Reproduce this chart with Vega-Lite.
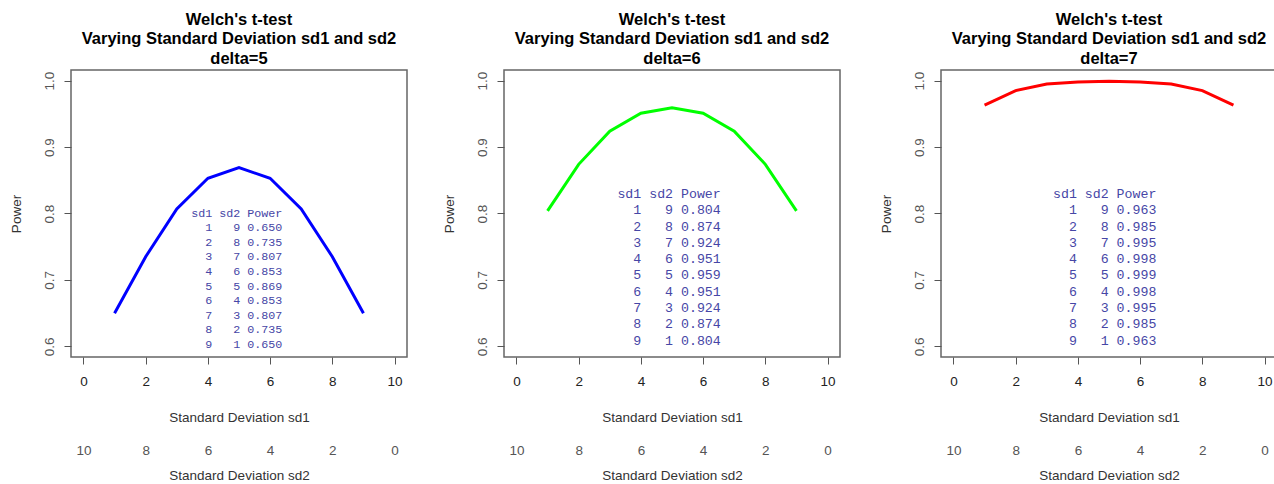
{
  "$schema": "https://vega.github.io/schema/vega-lite/v6.json",
  "padding": {"left": 8, "top": 10, "right": 0, "bottom": 0},
  "background": "white",
  "config": {
    "view": {"stroke": "#666666", "strokeWidth": 1.5},
    "title": {"font": "Liberation Sans", "fontSize": 16.5, "fontWeight": "bold", "lineHeight": 19.5, "color": "#000000", "anchor": "middle", "offset": 3},
    "axis": {"grid": false, "domain": false, "labelFont": "Liberation Sans", "labelFontSize": 13.5, "titleFont": "Liberation Sans", "titleFontSize": 13.5, "titleFontWeight": "normal", "titleColor": "#333333", "tickColor": "#555555", "tickSize": 7, "labelFlush": false, "labelOverlap": false}
  },
  "hconcat": [
    {
      "spacing": 33,
      "hconcat": [
        {
          "width": 336, "height": 287,
          "title": {"text": ["Welch's t-test", "Varying Standard Deviation sd1 and sd2", "delta=5"]},
          "data": {"values": [
            {"sd1": 1, "sd2": 9, "power": 0.650},
            {"sd1": 2, "sd2": 8, "power": 0.735},
            {"sd1": 3, "sd2": 7, "power": 0.807},
            {"sd1": 4, "sd2": 6, "power": 0.853},
            {"sd1": 5, "sd2": 5, "power": 0.869},
            {"sd1": 6, "sd2": 4, "power": 0.853},
            {"sd1": 7, "sd2": 3, "power": 0.807},
            {"sd1": 8, "sd2": 2, "power": 0.735},
            {"sd1": 9, "sd2": 1, "power": 0.650}
          ]},
          "layer": [
            {
              "mark": {"type": "line", "color": "#0000ff", "strokeWidth": 3},
              "encoding": {
                "x": {"field": "sd1", "type": "quantitative", "scale": {"domain": [-0.4, 10.4], "nice": false, "zero": false},
                      "axis": {"values": [0, 2, 4, 6, 8, 10], "title": "Standard Deviation sd1", "labelColor": "#222222", "labelPadding": 10, "titlePadding": 23}},
                "y": {"field": "power", "type": "quantitative", "scale": {"domain": [0.584, 1.016], "nice": false, "zero": false},
                      "axis": {"values": [0.6, 0.7, 0.8, 0.9, 1.0], "format": ".1f", "title": "Power", "labelAngle": -90, "labelColor": "#555555", "labelPadding": 8, "titlePadding": 19}}
              }
            },
            {
              "mark": {"type": "point", "opacity": 0},
              "encoding": {
                "x": {"field": "sd2", "type": "quantitative", "scale": {"domain": [-0.4, 10.4], "reverse": true, "nice": false, "zero": false},
                      "axis": {"orient": "bottom", "offset": 85, "values": [0, 2, 4, 6, 8, 10], "ticks": false, "tickSize": 0, "labelPadding": 1, "title": "Standard Deviation sd2", "labelColor": "#555555", "titlePadding": 12}},
                "y": {"field": "power", "type": "quantitative", "scale": {"domain": [0.584, 1.016], "nice": false, "zero": false}, "axis": null}
              }
            },
            {
              "mark": {"type": "text", "font": "Liberation Mono", "fontSize": 11.7, "align": "right", "baseline": "middle", "color": "#4646a6"},
              "encoding": {
                "x": {"datum": 4.137, "scale": {"domain": [-0.4, 10.4], "nice": false, "zero": false}, "axis": null},
                "y": {"field": "sd1", "type": "quantitative", "scale": {"domain": [-9.77, 9.89], "reverse": true, "nice": false, "zero": false}, "axis": null},
                "text": {"field": "sd1", "type": "quantitative", "format": "d"}
              }
            },
            {
              "mark": {"type": "text", "font": "Liberation Mono", "fontSize": 11.7, "align": "right", "baseline": "middle", "color": "#4646a6"},
              "encoding": {
                "x": {"datum": 5.04, "scale": {"domain": [-0.4, 10.4], "nice": false, "zero": false}, "axis": null},
                "y": {"field": "sd1", "type": "quantitative", "scale": {"domain": [-9.77, 9.89], "reverse": true, "nice": false, "zero": false}, "axis": null},
                "text": {"field": "sd2", "type": "quantitative", "format": "d"}
              }
            },
            {
              "mark": {"type": "text", "font": "Liberation Mono", "fontSize": 11.7, "align": "right", "baseline": "middle", "color": "#4646a6"},
              "encoding": {
                "x": {"datum": 6.394, "scale": {"domain": [-0.4, 10.4], "nice": false, "zero": false}, "axis": null},
                "y": {"field": "sd1", "type": "quantitative", "scale": {"domain": [-9.77, 9.89], "reverse": true, "nice": false, "zero": false}, "axis": null},
                "text": {"field": "power", "type": "quantitative", "format": ".3f"}
              }
            },
            {
              "data": {"values": [{"label": "sd1 sd2 Power", "row": 0}]},
              "mark": {"type": "text", "font": "Liberation Mono", "fontSize": 11.7, "align": "right", "baseline": "middle", "color": "#4646a6"},
              "encoding": {
                "x": {"datum": 6.394, "scale": {"domain": [-0.4, 10.4], "nice": false, "zero": false}, "axis": null},
                "y": {"field": "row", "type": "quantitative", "scale": {"domain": [-9.77, 9.89], "reverse": true, "nice": false, "zero": false}, "axis": null},
                "text": {"field": "label", "type": "nominal"}
              }
            }
          ],
          "resolve": {"scale": {"x": "independent", "y": "independent"}, "axis": {"x": "independent", "y": "independent"}}
        },
        {
          "width": 336, "height": 287,
          "title": {"text": ["Welch's t-test", "Varying Standard Deviation sd1 and sd2", "delta=6"]},
          "data": {"values": [
            {"sd1": 1, "sd2": 9, "power": 0.804},
            {"sd1": 2, "sd2": 8, "power": 0.874},
            {"sd1": 3, "sd2": 7, "power": 0.924},
            {"sd1": 4, "sd2": 6, "power": 0.951},
            {"sd1": 5, "sd2": 5, "power": 0.959},
            {"sd1": 6, "sd2": 4, "power": 0.951},
            {"sd1": 7, "sd2": 3, "power": 0.924},
            {"sd1": 8, "sd2": 2, "power": 0.874},
            {"sd1": 9, "sd2": 1, "power": 0.804}
          ]},
          "layer": [
            {
              "mark": {"type": "line", "color": "#00ff00", "strokeWidth": 3},
              "encoding": {
                "x": {"field": "sd1", "type": "quantitative", "scale": {"domain": [-0.4, 10.4], "nice": false, "zero": false},
                      "axis": {"values": [0, 2, 4, 6, 8, 10], "title": "Standard Deviation sd1", "labelColor": "#222222", "labelPadding": 10, "titlePadding": 23}},
                "y": {"field": "power", "type": "quantitative", "scale": {"domain": [0.584, 1.016], "nice": false, "zero": false},
                      "axis": {"values": [0.6, 0.7, 0.8, 0.9, 1.0], "format": ".1f", "title": "Power", "labelAngle": -90, "labelColor": "#555555", "labelPadding": 8, "titlePadding": 19}}
              }
            },
            {
              "mark": {"type": "point", "opacity": 0},
              "encoding": {
                "x": {"field": "sd2", "type": "quantitative", "scale": {"domain": [-0.4, 10.4], "reverse": true, "nice": false, "zero": false},
                      "axis": {"orient": "bottom", "offset": 85, "values": [0, 2, 4, 6, 8, 10], "ticks": false, "tickSize": 0, "labelPadding": 1, "title": "Standard Deviation sd2", "labelColor": "#555555", "titlePadding": 12}},
                "y": {"field": "power", "type": "quantitative", "scale": {"domain": [0.584, 1.016], "nice": false, "zero": false}, "axis": null}
              }
            },
            {
              "mark": {"type": "text", "font": "Liberation Mono", "fontSize": 13.25, "align": "right", "baseline": "middle", "color": "#4646a6"},
              "encoding": {
                "x": {"datum": 4.012, "scale": {"domain": [-0.4, 10.4], "nice": false, "zero": false}, "axis": null},
                "y": {"field": "sd1", "type": "quantitative", "scale": {"domain": [-7.607, 10.0], "reverse": true, "nice": false, "zero": false}, "axis": null},
                "text": {"field": "sd1", "type": "quantitative", "format": "d"}
              }
            },
            {
              "mark": {"type": "text", "font": "Liberation Mono", "fontSize": 13.25, "align": "right", "baseline": "middle", "color": "#4646a6"},
              "encoding": {
                "x": {"datum": 5.034, "scale": {"domain": [-0.4, 10.4], "nice": false, "zero": false}, "axis": null},
                "y": {"field": "sd1", "type": "quantitative", "scale": {"domain": [-7.607, 10.0], "reverse": true, "nice": false, "zero": false}, "axis": null},
                "text": {"field": "sd2", "type": "quantitative", "format": "d"}
              }
            },
            {
              "mark": {"type": "text", "font": "Liberation Mono", "fontSize": 13.25, "align": "right", "baseline": "middle", "color": "#4646a6"},
              "encoding": {
                "x": {"datum": 6.568, "scale": {"domain": [-0.4, 10.4], "nice": false, "zero": false}, "axis": null},
                "y": {"field": "sd1", "type": "quantitative", "scale": {"domain": [-7.607, 10.0], "reverse": true, "nice": false, "zero": false}, "axis": null},
                "text": {"field": "power", "type": "quantitative", "format": ".3f"}
              }
            },
            {
              "data": {"values": [{"label": "sd1 sd2 Power", "row": 0}]},
              "mark": {"type": "text", "font": "Liberation Mono", "fontSize": 13.25, "align": "right", "baseline": "middle", "color": "#4646a6"},
              "encoding": {
                "x": {"datum": 6.568, "scale": {"domain": [-0.4, 10.4], "nice": false, "zero": false}, "axis": null},
                "y": {"field": "row", "type": "quantitative", "scale": {"domain": [-7.607, 10.0], "reverse": true, "nice": false, "zero": false}, "axis": null},
                "text": {"field": "label", "type": "nominal"}
              }
            }
          ],
          "resolve": {"scale": {"x": "independent", "y": "independent"}, "axis": {"x": "independent", "y": "independent"}}
        }
      ]
    },
    {
      "width": 336, "height": 287,
      "title": {"text": ["Welch's t-test", "Varying Standard Deviation sd1 and sd2", "delta=7"]},
      "data": {"values": [
        {"sd1": 1, "sd2": 9, "power": 0.963},
        {"sd1": 2, "sd2": 8, "power": 0.985},
        {"sd1": 3, "sd2": 7, "power": 0.995},
        {"sd1": 4, "sd2": 6, "power": 0.998},
        {"sd1": 5, "sd2": 5, "power": 0.999},
        {"sd1": 6, "sd2": 4, "power": 0.998},
        {"sd1": 7, "sd2": 3, "power": 0.995},
        {"sd1": 8, "sd2": 2, "power": 0.985},
        {"sd1": 9, "sd2": 1, "power": 0.963}
      ]},
      "layer": [
        {
          "mark": {"type": "line", "color": "#ff0000", "strokeWidth": 3},
          "encoding": {
            "x": {"field": "sd1", "type": "quantitative", "scale": {"domain": [-0.4, 10.4], "nice": false, "zero": false},
                  "axis": {"values": [0, 2, 4, 6, 8, 10], "title": "Standard Deviation sd1", "labelColor": "#222222", "labelPadding": 10, "titlePadding": 23}},
            "y": {"field": "power", "type": "quantitative", "scale": {"domain": [0.584, 1.016], "nice": false, "zero": false},
                  "axis": {"values": [0.6, 0.7, 0.8, 0.9, 1.0], "format": ".1f", "title": "Power", "labelAngle": -90, "labelColor": "#555555", "labelPadding": 8, "titlePadding": 19}}
          }
        },
        {
          "mark": {"type": "point", "opacity": 0},
          "encoding": {
            "x": {"field": "sd2", "type": "quantitative", "scale": {"domain": [-0.4, 10.4], "reverse": true, "nice": false, "zero": false},
                  "axis": {"orient": "bottom", "offset": 85, "values": [0, 2, 4, 6, 8, 10], "ticks": false, "tickSize": 0, "labelPadding": 1, "title": "Standard Deviation sd2", "labelColor": "#555555", "titlePadding": 12}},
            "y": {"field": "power", "type": "quantitative", "scale": {"domain": [0.584, 1.016], "nice": false, "zero": false}, "axis": null}
          }
        },
        {
          "mark": {"type": "text", "font": "Liberation Mono", "fontSize": 13.25, "align": "right", "baseline": "middle", "color": "#4646a6"},
          "encoding": {
            "x": {"datum": 3.967, "scale": {"domain": [-0.4, 10.4], "nice": false, "zero": false}, "axis": null},
            "y": {"field": "sd1", "type": "quantitative", "scale": {"domain": [-7.607, 10.0], "reverse": true, "nice": false, "zero": false}, "axis": null},
            "text": {"field": "sd1", "type": "quantitative", "format": "d"}
          }
        },
        {
          "mark": {"type": "text", "font": "Liberation Mono", "fontSize": 13.25, "align": "right", "baseline": "middle", "color": "#4646a6"},
          "encoding": {
            "x": {"datum": 4.989, "scale": {"domain": [-0.4, 10.4], "nice": false, "zero": false}, "axis": null},
            "y": {"field": "sd1", "type": "quantitative", "scale": {"domain": [-7.607, 10.0], "reverse": true, "nice": false, "zero": false}, "axis": null},
            "text": {"field": "sd2", "type": "quantitative", "format": "d"}
          }
        },
        {
          "mark": {"type": "text", "font": "Liberation Mono", "fontSize": 13.25, "align": "right", "baseline": "middle", "color": "#4646a6"},
          "encoding": {
            "x": {"datum": 6.523, "scale": {"domain": [-0.4, 10.4], "nice": false, "zero": false}, "axis": null},
            "y": {"field": "sd1", "type": "quantitative", "scale": {"domain": [-7.607, 10.0], "reverse": true, "nice": false, "zero": false}, "axis": null},
            "text": {"field": "power", "type": "quantitative", "format": ".3f"}
          }
        },
        {
          "data": {"values": [{"label": "sd1 sd2 Power", "row": 0}]},
          "mark": {"type": "text", "font": "Liberation Mono", "fontSize": 13.25, "align": "right", "baseline": "middle", "color": "#4646a6"},
          "encoding": {
            "x": {"datum": 6.523, "scale": {"domain": [-0.4, 10.4], "nice": false, "zero": false}, "axis": null},
            "y": {"field": "row", "type": "quantitative", "scale": {"domain": [-7.607, 10.0], "reverse": true, "nice": false, "zero": false}, "axis": null},
            "text": {"field": "label", "type": "nominal"}
          }
        }
      ],
      "resolve": {"scale": {"x": "independent", "y": "independent"}, "axis": {"x": "independent", "y": "independent"}}
    }
  ],
  "spacing": 37
}
